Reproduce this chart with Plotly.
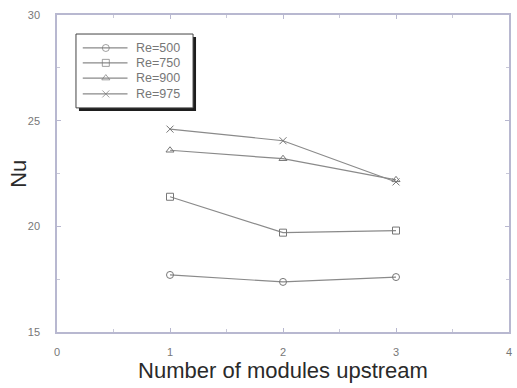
import plotly.graph_objects as go

# Heat-transfer results per module position
modules = [1, 2, 3]
nu_re500 = [17.7, 17.37, 17.6]
nu_re750 = [21.4, 19.7, 19.8]
nu_re900 = [23.6, 23.2, 22.2]
nu_re975 = [24.6, 24.05, 22.1]

series = [
    ("Re=500", nu_re500, "circle-open"),
    ("Re=750", nu_re750, "square-open"),
    ("Re=900", nu_re900, "triangle-up-open"),
    ("Re=975", nu_re975, "x-thin-open"),
]

LINE = dict(color="#8a8a8a", width=1.2)
GREY = "#777777"


def marker(sym, size=7):
    return dict(symbol=sym, size=size, color=GREY, line=dict(color=GREY, width=1))


fig = go.Figure()
for name, vals, sym in series:
    fig.add_trace(go.Scatter(x=modules, y=vals, name=name, mode="lines+markers",
                             line=LINE, marker=marker(sym), showlegend=False))

axis_common = dict(
    showgrid=False, zeroline=False, mirror="allticks",
    showline=True, linecolor="#b8b8d0", linewidth=1.5,
    ticks="inside", ticklen=4, tickcolor="#b8b8d0",
    tickfont=dict(family="Liberation Sans", size=11, color="#777777"),
    minor=dict(ticks="inside", ticklen=3, tickcolor="#c8c8d8"),
)
title_font = dict(family="Liberation Sans", size=22, color="#2a2a2a")

fig.update_xaxes(range=[0, 4], dtick=1, minor_dtick=0.5, ticklabelstandoff=9,
                 title=dict(text="Number of modules upstream", standoff=6, font=title_font),
                 **axis_common)
fig.update_yaxes(range=[15, 30], dtick=5, minor_dtick=2.5, ticklabelstandoff=13,
                 **axis_common)

# y-axis title placed beside the tick labels
fig.add_annotation(text="Nu", textangle=-90, x=-0.0857, y=0.5,
                   xref="paper", yref="paper", showarrow=False,
                   xanchor="center", yanchor="middle", font=title_font)

# Boxed key in the upper-left corner, drawn on a unit overlay frame
fig.update_layout(
    xaxis2=dict(overlaying="x", range=[0, 1], visible=False, fixedrange=True),
    yaxis2=dict(overlaying="y", range=[0, 1], visible=False, fixedrange=True),
)
box = dict(x0=0.042, x1=0.301, y0=0.707, y1=0.940)
dx, dy = 3 / 455, 3 / 317
fig.add_shape(type="rect", xref="paper", yref="paper",
              x0=box["x0"] + dx, x1=box["x1"] + dx, y0=box["y0"] - dy, y1=box["y1"] - dy,
              fillcolor="#1e1e1e", line=dict(width=0), layer="below")
fig.add_shape(type="rect", xref="paper", yref="paper", **box,
              fillcolor="white", line=dict(color="#444444", width=1), layer="below")

key_rows = [0.896, 0.849, 0.801, 0.751]
key_x = [0.057, 0.108, 0.156]
for (name, _, sym), ky in zip(series, key_rows):
    fig.add_trace(go.Scatter(x=key_x, y=[ky] * 3, xaxis="x2", yaxis="y2",
                             mode="lines+markers", line=LINE,
                             marker=dict(marker(sym), size=[0, 7, 0]),
                             showlegend=False, hoverinfo="skip"))
    fig.add_annotation(x=0.171, y=ky, xref="paper", yref="paper", text=name,
                       showarrow=False, xanchor="left", yanchor="middle",
                       font=dict(family="Liberation Sans", size=12.5, color=GREY))

fig.update_layout(
    width=517, height=388,
    margin=dict(l=57, r=5, t=15, b=56),
    paper_bgcolor="white", plot_bgcolor="white",
    showlegend=False,
)

fig.write_html("out.html")
